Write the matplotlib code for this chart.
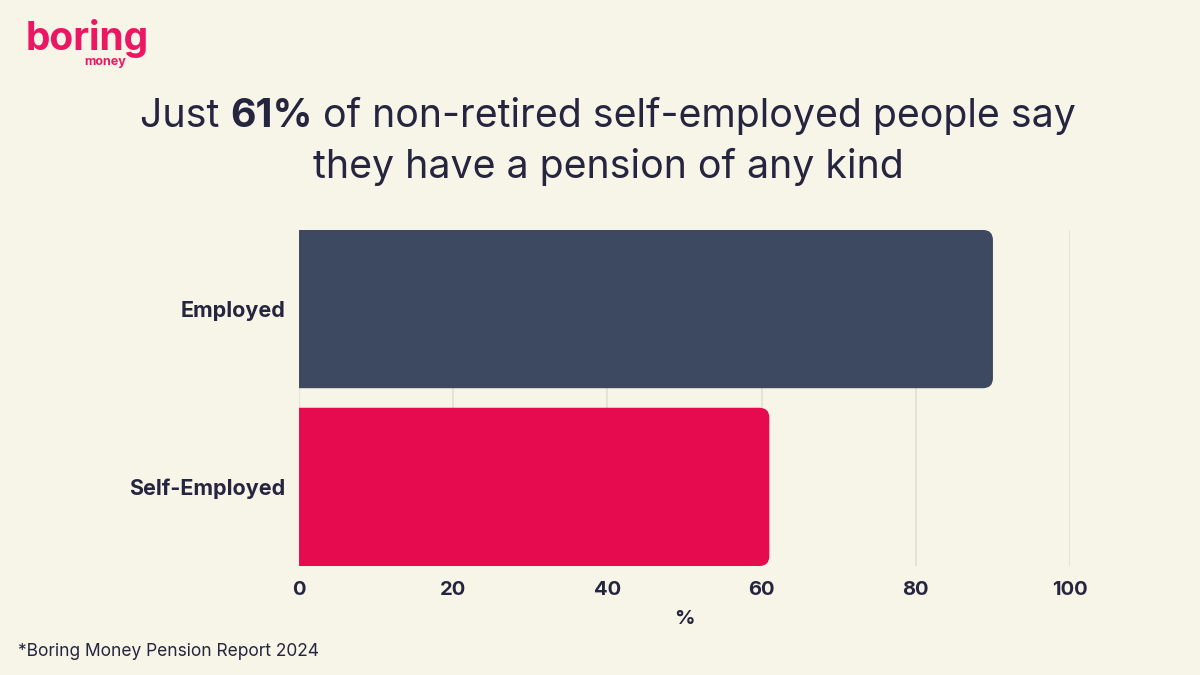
import matplotlib
matplotlib.use("Agg")
import matplotlib.pyplot as plt
from matplotlib.path import Path
from matplotlib.patches import PathPatch

# data
categories = ["Employed", "Self-Employed"]
values = [90, 61]
bar_colors = ["#3d4960", "#e60b4e"]
x_ticks = [0, 20, 40, 60, 80, 100]

BG = "#f7f4e8"
TEXT = "#26253f"
PINK = "#ec1762"
GRID = "#e6e2d4"

plt.rcParams["font.family"] = ["Inter", "DejaVu Sans"]

fig = plt.figure(figsize=(12, 6.75), dpi=100, facecolor=BG)
ax = fig.add_axes([0.2492, 0.1615, 0.6425, 0.4978], facecolor=BG)

bar_h = 0.89
bars = ax.barh(categories, values, height=bar_h, color=bar_colors)
ax.set_xlim(0, 100)
ax.set_ylim(len(categories) - 1 + bar_h / 2, -bar_h / 2)

# swap plain rectangles for ones with rounded right corners
pos = ax.get_position()
px_x = pos.width * 1200 / 100
px_y = pos.height * 675 / (len(categories) - 1 + bar_h)
radius = 10
rx, ry = radius / px_x, radius / px_y
for b, c in zip(bars, bar_colors):
    x0, y0 = b.get_x(), b.get_y()
    x1, y1 = x0 + b.get_width(), y0 + b.get_height()
    verts = [(x0, y0), (x1 - rx, y0), (x1, y0), (x1, y0 + ry),
             (x1, y1 - ry), (x1, y1), (x1 - rx, y1), (x0, y1), (x0, y0)]
    codes = [Path.MOVETO, Path.LINETO, Path.CURVE3, Path.CURVE3,
             Path.LINETO, Path.CURVE3, Path.CURVE3, Path.LINETO, Path.CLOSEPOLY]
    b.set_visible(False)
    ax.add_patch(PathPatch(Path(verts, codes), facecolor=c, edgecolor="none", zorder=3))

ax.set_xticks(x_ticks)
ax.grid(axis="x", color=GRID, linewidth=1.5, zorder=0)
ax.set_axisbelow(True)
for s in ax.spines.values():
    s.set_visible(False)
ax.tick_params(length=0, colors=TEXT)
ax.tick_params(axis="x", pad=11, labelsize=14.5)
ax.tick_params(axis="y", pad=10, labelsize=15.5)
for lab in ax.get_xticklabels() + ax.get_yticklabels():
    lab.set_fontweight("bold")
    lab.set_color(TEXT)
ax.set_xlabel("%", fontsize=14.5, fontweight="bold", color=TEXT, labelpad=8)

# title with bold figure
fig.canvas.draw()
r = fig.canvas.get_renderer()
parts = [("Just ", "normal"), ("61%", "bold"), (" of non-retired self-employed people say", "normal")]
texts = [fig.text(0, 1 - 127 / 675, s, fontsize=28.3, fontweight=w, color=TEXT, va="baseline") for s, w in parts]
widths = [t.get_window_extent(r).width for t in texts]
x = 608 - sum(widths) / 2
for t, w in zip(texts, widths):
    t.set_x(x / 1200)
    x += w
fig.text(608 / 1200, 1 - 178 / 675, "they have a pension of any kind", fontsize=28.3, color=TEXT,
         ha="center", va="baseline")

# logo
fig.text(26 / 1200, 1 - 50 / 675, "boring", fontsize=28, fontweight="bold", color=PINK, va="baseline")
fig.text(126 / 1200, 1 - 65 / 675, "money", fontsize=9, fontweight="bold", color=PINK,
         ha="right", va="baseline")

fig.text(18 / 1200, 1 - 656 / 675, "*Boring Money Pension Report 2024", fontsize=12.5,
         color=TEXT, va="baseline")

fig.savefig("out.png", dpi=100, facecolor=BG)
